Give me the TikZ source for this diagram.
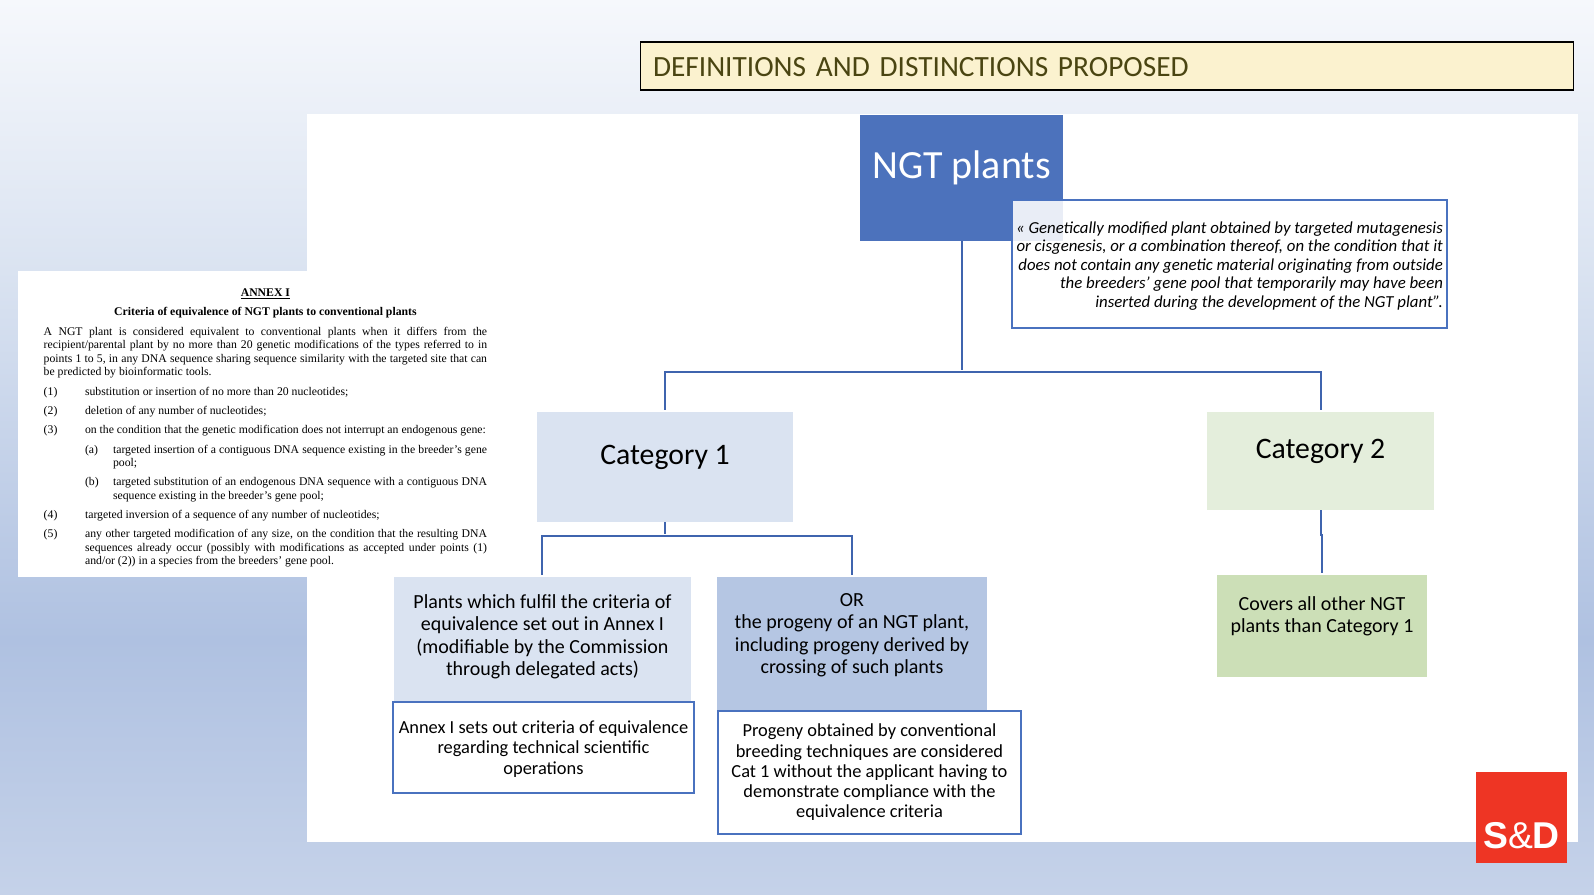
\documentclass[tikz,border=0pt]{standalone}
\usepackage{fontspec}
\setmainfont{Carlito}
\newfontfamily\annexfont{Liberation Serif}
\newfontfamily\logofont{Liberation Sans}
\usepackage{tikz}
\usetikzlibrary{positioning}
\definecolor{linkblue}{HTML}{3F64AE}
\definecolor{noteblue}{HTML}{4A72BF}
\definecolor{ngtblue}{HTML}{4C72BC}
\definecolor{catblue}{HTML}{DAE3F1}
\definecolor{orblue}{HTML}{B5C6E3}
\definecolor{catgreen}{HTML}{E4EEDC}
\definecolor{subgreen}{HTML}{CCDFB7}
\definecolor{titlefill}{HTML}{FBF2CF}
\definecolor{titletext}{HTML}{4A4512}
\definecolor{logored}{HTML}{EE3524}
\definecolor{slidetop}{HTML}{F6F8FC}
\definecolor{slidemid}{HTML}{AFC1E1}
\definecolor{slidelow}{HTML}{C5D2E9}
\newcommand{\annexline}[1]{\par\vspace{4.4pt}\noindent #1}
\newcommand{\annexitem}[4]{\par\vspace{4.4pt}\hangindent=#1\hangafter=0\noindent\llap{\makebox[#2][l]{#3}}#4}
\begin{document}
\begin{tikzpicture}[x=0.75pt,y=-0.75pt,
box/.style={inner sep=0pt,outer sep=0pt,align=center},
note/.style={box,draw=noteblue,line width=1pt,fill=white},
link/.style={draw=linkblue,line width=1.5pt,shorten >=1.5pt}]
\useasboundingbox (0,0) rectangle (1594,894);
% slide background
\fill[top color=slidetop,bottom color=catblue] (0,0) rectangle (1594,271);
\fill[top color=catblue,bottom color=slidemid] (0,270) rectangle (1594,640);
\fill[top color=slidemid,bottom color=slidelow] (0,639) rectangle (1594,894);
\fill[white] (307,114) rectangle (1578,842);
% title
\node[box,draw=black,line width=1pt,fill=titlefill,anchor=north west,text width=681pt,inner xsep=9.4pt,minimum height=36pt,
align=left,text=titletext,font=\fontsize{22}{26}\selectfont] (title) at (640.5,42) {~\\[-10.5pt]DEFINITIONS AND DISTINCTIONS PROPOSED};
% annex page
\node[box,fill=white,anchor=north west,text width=332.5pt,inner xsep=19.3pt,minimum height=229.5pt,align=justify,
font=\annexfont\fontsize{8.8}{10.1}\selectfont] (annex) at (18,271) {%
\hyphenpenalty=10000\relax\exhyphenpenalty=10000\relax
{\centering\bfseries\rule{0pt}{12pt}\underline{ANNEX I}\par\vspace{4.4pt}Criteria of equivalence of NGT plants to conventional plants\par}
\annexline{A NGT plant is considered equivalent to conventional plants when it differs from the\linebreak recipient/parental plant by no more than 20 genetic modifications of the types referred to in\linebreak points 1 to 5, in any DNA sequence sharing sequence similarity with the targeted site that can\linebreak be predicted by bioinformatic tools.}
\annexitem{31pt}{31pt}{(1)}{substitution or insertion of no more than 20 nucleotides;}
\annexitem{31pt}{31pt}{(2)}{deletion of any number of nucleotides;}
\annexitem{31pt}{31pt}{(3)}{on the condition that the genetic modification does not interrupt an endogenous gene:}
\annexitem{52pt}{21pt}{(a)}{targeted insertion of a contiguous DNA sequence existing in the breeder’s gene\linebreak pool;}
\annexitem{52pt}{21pt}{(b)}{targeted substitution of an endogenous DNA sequence with a contiguous DNA\linebreak sequence existing in the breeder’s gene pool;}
\annexitem{31pt}{31pt}{(4)}{targeted inversion of a sequence of any number of nucleotides;}
\annexitem{31pt}{31pt}{(5)}{any other targeted modification of any size, on the condition that the resulting DNA\linebreak sequences already occur (possibly with modifications as accepted under points (1)\linebreak and/or (2)) in a species from the breeders’ gene pool.}\par};
% tree
\node[box,fill=ngtblue,minimum width=152.25pt,minimum height=94.5pt,text=white,font=\fontsize{30}{36}\selectfont] (ngt) at (961.5,178) {NGT plants\\[-16.4pt]~};
\node[box,fill=catblue,minimum width=192pt,minimum height=82.5pt,below left=128.25pt and 50.25pt of ngt.south west,font=\fontsize{22.3}{26}\selectfont] (cat1) {Category 1\\[-7.8pt]~};
\node[box,fill=catgreen,minimum width=170.25pt,minimum height=73.5pt,below right=128.25pt and 108pt of ngt.south east,font=\fontsize{22.3}{26}\selectfont] (cat2) {Category 2\\[-7.7pt]~};
\node[box,fill=catblue,minimum width=222.75pt,minimum height=93.75pt,below=41.25pt of cat1.south,xshift=-91.9pt,font=\fontsize{15}{16.8}\selectfont] (plants) {Plants which fulfil the criteria of\\equivalence set out in Annex I\\(modifiable by the Commission\\through delegated acts)\\[-10pt]~};
\node[box,fill=orblue,minimum width=202.5pt,minimum height=100.5pt,right=19.5pt of plants.north east,anchor=north west,font=\fontsize{15}{16.8}\selectfont] (progeny) {OR\\the progeny of an NGT plant,\\including progeny derived by\\crossing of such plants\\[-1pt]~};
\node[note,minimum width=225.75pt,minimum height=68.25pt,below=0pt of plants,xshift=0.75pt,font=\fontsize{13.8}{15.2}\selectfont] (annexnote) {~\\[-3.5pt]Annex I sets out criteria of equivalence\\regarding technical scientific\\operations};
\node[note,minimum width=227.25pt,minimum height=92.25pt,below=0pt of progeny.south west,anchor=north west,xshift=0.75pt,font=\fontsize{13.8}{15.2}\selectfont] (breednote) {Progeny obtained by conventional\\breeding techniques are considered\\Cat 1 without the applicant having to\\demonstrate compliance with the\\equivalence criteria};
\node[box,fill=subgreen,minimum width=157.5pt,minimum height=76.5pt,below=48.75pt of cat2,xshift=1.1pt,font=\fontsize{15}{16.2}\selectfont] (other) {Covers all other NGT\\plants than Category 1\\[1.3pt]~};
\node[note,minimum width=326.25pt,minimum height=96pt,fill opacity=0.88,text opacity=1,align=right,font=\itshape\fontsize{12.6}{13.8}\selectfont] (quote) at (1229.5,264) {~\\[-2.3pt]« Genetically modified plant obtained by targeted mutagenesis\\or cisgenesis, or a combination thereof, on the condition that it\\does not contain any genetic material originating from outside\\the breeders’ gene pool that temporarily may have been\\inserted during the development of the NGT plant”.};
\node[box,fill=logored,minimum width=68.25pt,minimum height=68.25pt,text=white,font=\logofont\fontsize{28}{20}\selectfont] (logo) at (1521.5,817.5) {~\\[27.4pt]\textbf{S}\&\textbf{D}};
\coordinate (topbar) at (ngt.south|-0,372);
\coordinate (catbar) at (cat1.south|-0,536);
\coordinate (greenbend) at (cat2.south|-0,535);
\coordinate (greenjog) at (other.north|-0,535);
% connectors
\draw[link] (ngt)--(topbar);
\draw[link] (topbar)-|(cat1);
\draw[link] (topbar)-|(cat2);
\draw[link] (cat1)--(catbar);
\draw[link] (catbar)-|(plants);
\draw[link] (catbar)-|(progeny);
\draw[link] (cat2)--(greenbend)--(greenjog)--(other);
\end{tikzpicture}
\end{document}
